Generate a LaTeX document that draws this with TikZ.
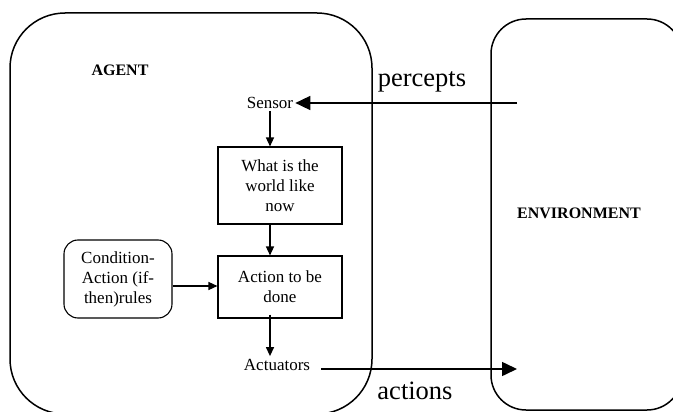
\documentclass[tikz,border=0pt]{standalone}
\usepackage{fontspec}
\setmainfont{Liberation Serif}
\usetikzlibrary{arrows.meta}
\begin{document}
\begin{tikzpicture}[x=1pt,y=-1pt,
  small/.style={font=\fontsize{17}{20}\selectfont},
  big/.style={font=\fontsize{26.5}{30}\selectfont},
  heading/.style={font=\fontsize{16}{19}\selectfont\bfseries},
  box/.style={draw,line width=1.1pt,align=center,small,inner sep=0pt},
  frame/.style={draw,line width=1.5pt},
  arr/.style={line width=1.3pt,-{Triangle[length=9pt,width=8pt]}},
  bigarr/.style={line width=1.6pt,-{Triangle[length=15pt,width=14pt]}}]
\useasboundingbox (0,0) rectangle (673,412);
\draw[frame,rounded corners=55pt] (10,13) rectangle (372,414);
\draw[frame,rounded corners=35pt] (491,19) rectangle (682,410);
\node[heading] (agent) at (120,70) {AGENT};
\node[heading] (env) at (579,213) {ENVIRONMENT};
\node[small,inner sep=2pt] (sensor) at (270,103) {Sensor};
\node[box,minimum width=124pt,minimum height=77pt] (world) at (280,185.5) {What is the\\world like\\now};
\node[box,minimum width=124pt,minimum height=62pt] (action) at (280,287) {Action to be\\done};
\node[box,rounded corners=14pt,minimum width=108pt,minimum height=78pt] (rules) at (118,279) {Condition-\\Action (if-\\then)rules};
\node[small,inner sep=3pt] (act) at (277,365) {Actuators};
\node[big] (percepts) at (422,82) {percepts};
\node[big] (actions) at (415,391) {actions};
\coordinate (pstart) at (517,103);
\coordinate (aend) at (517,369);
\draw[bigarr] (pstart) -- (sensor.east);
\draw[arr] (sensor.south) -- (sensor.south |- world.north);
\draw[arr] (world.south -| sensor) -- (action.north -| sensor);
\draw[arr] (rules.east |- 0,286) -- (action.west |- 0,286);
\draw[arr] ([yshift=4pt]action.south -| sensor) -- (act.north -| sensor);
\draw[bigarr] ([xshift=8pt,yshift=-4pt]act.east) -- (aend);
\end{tikzpicture}
\end{document}
